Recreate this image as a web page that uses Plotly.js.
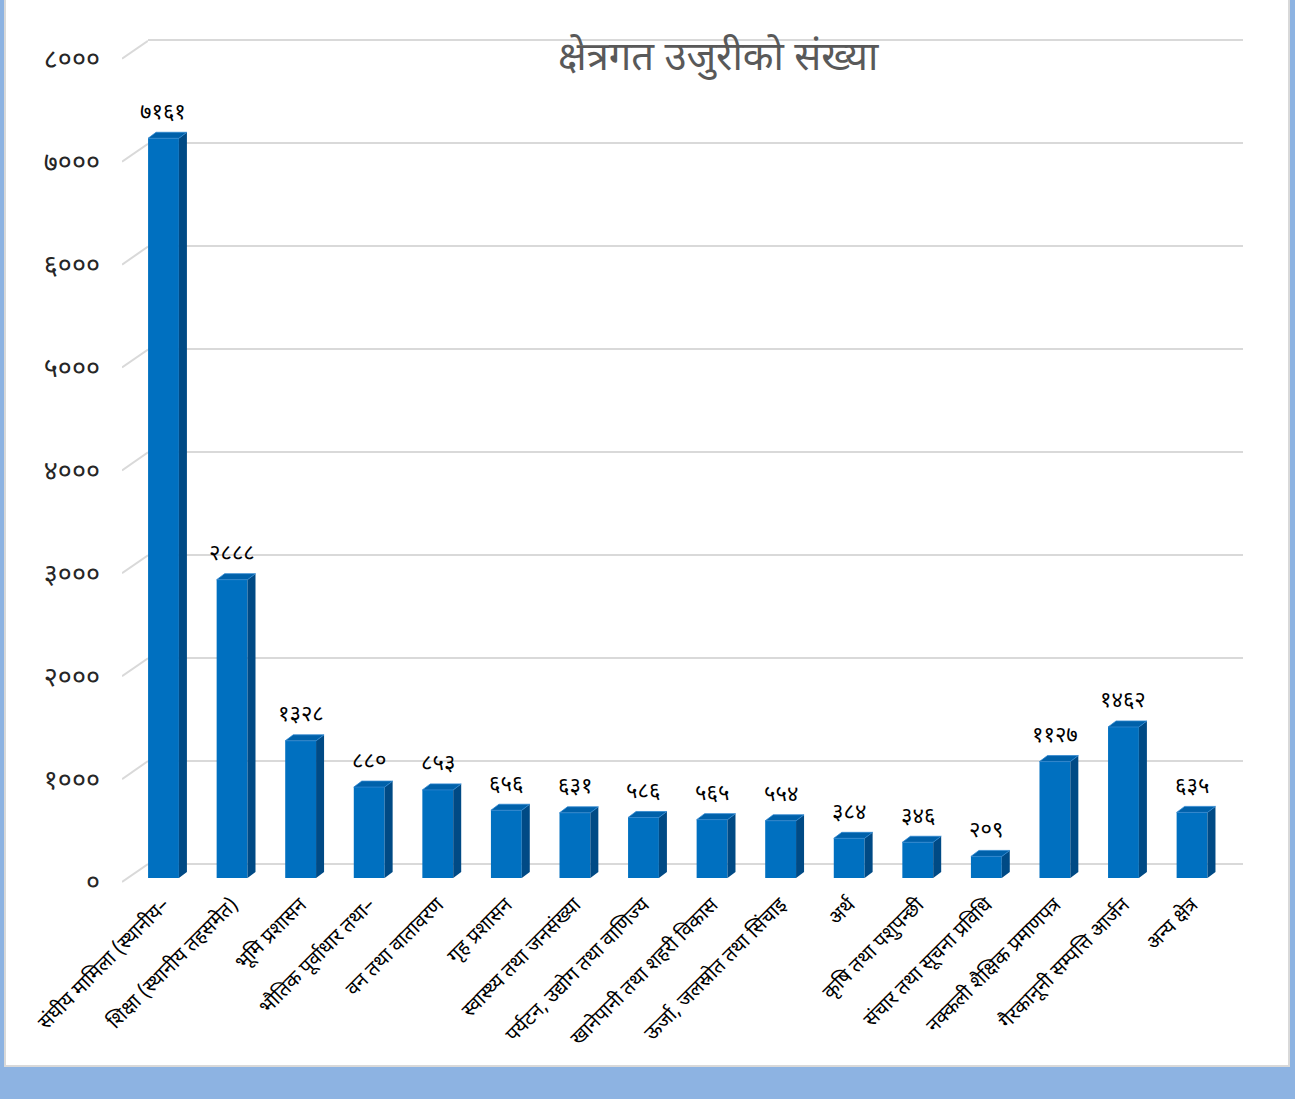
<!DOCTYPE html>
<html>
<head>
<meta charset="utf-8">
<script src="https://cdn.plot.ly/plotly-3.0.1.min.js"></script>
<style>html,body{margin:0;padding:0;background:#fff;}#chart{width:1295px;height:1099px;}</style>
</head>
<body>
<div id="chart"></div>
<script>
const categories = [
  'संघीय मामिला (स्थानीय–',
  'शिक्षा (स्थानीय तहसमेत)',
  'भूमि प्रशासन',
  'भौतिक पूर्वाधार तथा–',
  'वन तथा वातावरण',
  'गृह प्रशासन',
  'स्वास्थ्य तथा जनसंख्या',
  'पर्यटन, उद्योग तथा वाणिज्य',
  'खानेपानी तथा शहरी विकास',
  'ऊर्जा, जलस्रोत तथा सिंचाइ',
  'अर्थ',
  'कृषि तथा पशुपन्छी',
  'संचार तथा सूचना प्रविधि',
  'नक्कली शैक्षिक प्रमाणपत्र',
  'गैरकानूनी सम्पत्ति आर्जन',
  'अन्य क्षेत्र'
];
const values = [7161, 2888, 1328, 880, 853, 656, 631, 586, 565, 554, 384, 346, 209, 1127, 1462, 635];
const valueLabels = ['७१६१','२८८८','१३२८','८८०','८५३','६५६','६३१','५८६','५६५','५५४','३८४','३४६','२०९','११२७','१४६२','६३५'];
const yTickValues = [0, 1000, 2000, 3000, 4000, 5000, 6000, 7000, 8000];
const yTickLabels = ['०','१०००','२०००','३०००','४०००','५०००','६०००','७०००','८०००'];
const titleText = 'क्षेत्रगत उजुरीको संख्या';

const W = 1295, H = 1099;
const px = x => x / W;
const py = y => 1 - y / H;

// 3D styling constants (pixels converted to axis units)
const catPx = 68.57;             // pixels per category
const unitPx = 0.1033;           // pixels per value unit
const wallPx = 0.103;            // pixels per unit on the back wall
const barHalf = 0.225;
const depthX = 8 / catPx;
const depthY = 6 / unitPx;
const wallOffsetUnits = 18 / 0.1029;
const pad = 60;                  // axis range padding (units)

const xIdx = categories.map((c, i) => i);

// side and top faces
const sideX = [], sideY = [], topX = [], topY = [];
xIdx.forEach((i, k) => {
  const v = values[k];
  sideX.push(i + barHalf, i + barHalf + depthX, i + barHalf + depthX, i + barHalf, i + barHalf, null);
  sideY.push(0, depthY, v + depthY, v, 0, null);
  topX.push(i - barHalf, i + barHalf, i + barHalf + depthX, i - barHalf + depthX, i - barHalf, null);
  topY.push(v, v, v + depthY, v + depthY, v, null);
});

// slant connectors
const slX = [], slY = [];
yTickValues.forEach(v => { slX.push(0, 1, null); slY.push(v, v + wallOffsetUnits, null); });

const devFont = '"Noto Sans Devanagari", "Noto Sans", "Lohit Devanagari", Mangal, sans-serif';

const traces = [
  // grid wall subplot (xy)
  {x: [0, 1], y: [0, 0], xaxis: 'x', yaxis: 'y', mode: 'lines', line: {width: 0}, hoverinfo: 'skip', showlegend: false},
  // bars subplot (x2y2)
  {type: 'bar', x: xIdx, y: values, xaxis: 'x2', yaxis: 'y2', width: barHalf * 2,
   marker: {color: '#0070C0', line: {width: 0}}, showlegend: false, hoverinfo: 'skip'},
  {x: sideX, y: sideY, xaxis: 'x2', yaxis: 'y2', mode: 'lines', fill: 'toself', fillcolor: '#004A85',
   line: {width: 0, color: '#004A85'}, showlegend: false, hoverinfo: 'skip'},
  {x: topX, y: topY, xaxis: 'x2', yaxis: 'y2', mode: 'lines', fill: 'toself', fillcolor: '#0061AA',
   line: {width: 0.8, color: '#2F86CF'}, showlegend: false, hoverinfo: 'skip'},
  // slants + tick labels subplot (x3y3)
  {x: slX, y: slY, xaxis: 'x3', yaxis: 'y3', mode: 'lines', line: {color: '#D9D9D9', width: 2},
   showlegend: false, hoverinfo: 'skip'}
];

const annotations = xIdx.map((i, k) => ({
  x: i, y: values[k], xref: 'x2', yref: 'y2', text: valueLabels[k], showarrow: false,
  yanchor: 'middle', xanchor: 'center', yshift: 25,
  font: {family: devFont, size: 22, color: '#000000'}
}));
annotations.push({
  x: px(718), y: py(60), xref: 'paper', yref: 'paper', text: titleText, showarrow: false,
  xanchor: 'center', yanchor: 'middle', font: {family: devFont, size: 40, color: '#595959'}
});

const layout = {
  width: W, height: H,
  margin: {l: 0, r: 0, t: 0, b: 0},
  paper_bgcolor: '#8DB3E2',
  plot_bgcolor: 'rgba(0,0,0,0)',
  showlegend: false,
  xaxis: {domain: [px(148), px(1243)], range: [0, 1], visible: false, fixedrange: true},
  yaxis: {domain: [py(864 + pad * wallPx), py(864 - (8000 + pad) * wallPx)], range: [-pad, 8000 + pad],
          tickvals: yTickValues,
          showgrid: true, gridcolor: '#D9D9D9', gridwidth: 2, zeroline: false, showticklabels: false,
          ticks: '', showline: false},
  xaxis2: {domain: [px(163.5 - catPx / 2), px(163.5 + catPx * 15.5)], range: [-0.5, 15.5], anchor: 'y2',
           tickvals: xIdx, ticktext: categories, tickangle: -45, showgrid: false, zeroline: false,
           ticks: '', showline: false, ticklabelstandoff: 10,
           tickfont: {family: devFont, size: 20, color: '#000000'}},
  yaxis2: {domain: [py(878), py(878 - 8000 * unitPx)], range: [0, 8000], anchor: 'x2', visible: false},
  xaxis3: {domain: [px(122), px(148)], range: [0, 1], anchor: 'y3', visible: false},
  yaxis3: {domain: [py(882 + pad * 0.1029), py(882 - 8200 * 0.1029)], range: [-pad, 8200], anchor: 'free', position: px(100),
           tickvals: yTickValues, ticktext: yTickLabels, showgrid: false, zeroline: false, showline: false,
           ticks: '', tickfont: {family: devFont, size: 27, color: '#262626'}},
  shapes: [
    {type: 'rect', xref: 'paper', yref: 'paper', x0: px(5), x1: px(1289), y0: py(1066), y1: py(-2),
     fillcolor: '#FFFFFF', line: {color: '#D9D9D9', width: 2}, layer: 'below'}
  ],
  annotations: annotations
};

Plotly.newPlot('chart', traces, layout, {staticPlot: true, displayModeBar: false});
</script>
</body>
</html>
